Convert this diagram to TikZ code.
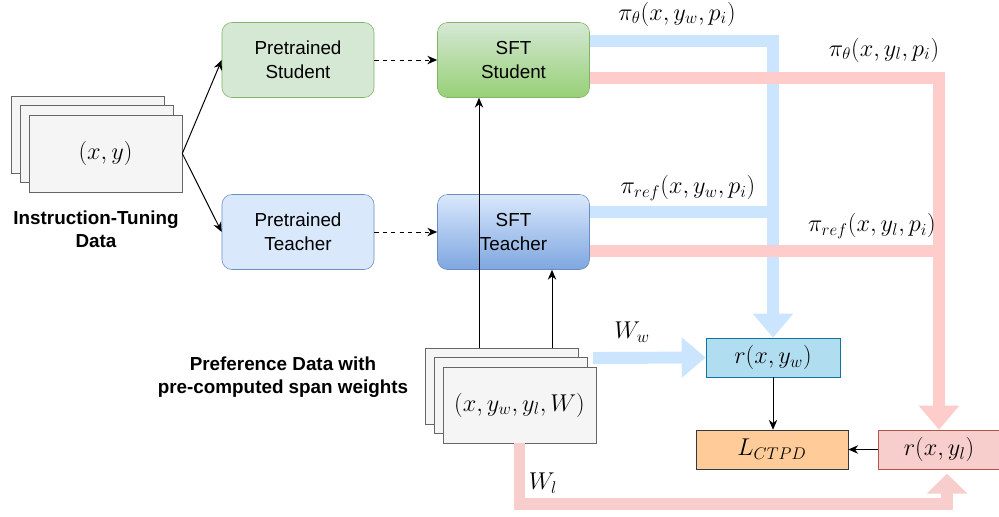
\documentclass[tikz,border=0pt]{standalone}
\usepackage{fontspec}
\setsansfont{Liberation Sans}
\usetikzlibrary{arrows.meta}

\definecolor{stuFill}{HTML}{D5E8D4}
\definecolor{stuLine}{HTML}{82B366}
\definecolor{stuDark}{HTML}{97D077}
\definecolor{teaFill}{HTML}{DAE8FC}
\definecolor{teaLine}{HTML}{6C8EBF}
\definecolor{teaDark}{HTML}{7EA6E0}
\definecolor{dataFill}{HTML}{F5F5F5}
\definecolor{dataLine}{HTML}{666666}
\definecolor{rwFill}{HTML}{B1DDF0}
\definecolor{rwLine}{HTML}{10739E}
\definecolor{rlFill}{HTML}{F8CECC}
\definecolor{rlLine}{HTML}{B85450}
\definecolor{lossFill}{HTML}{FFCC99}
\definecolor{lossLine}{HTML}{36393D}
\definecolor{flowBlue}{HTML}{CCE5FF}
\definecolor{flowPink}{HTML}{FFCCCC}

\begin{document}
\begin{tikzpicture}[x=0.025cm,y=-0.025cm,
  txt/.style={font=\fontsize{13.4}{17}\selectfont\sffamily,align=center},
  bold/.style={font=\fontsize{13.4}{16.5}\selectfont\sffamily\bfseries,align=center},
  mth/.style={font=\fontsize{16.5}{19}\selectfont},
  model/.style={draw,rounded corners=0.25cm,minimum width=3.8cm,minimum height=1.875cm,txt},
  sheet/.style={draw=dataLine,fill=dataFill,minimum width=3.825cm,minimum height=1.925cm,mth},
  score/.style={draw,minimum height=0.975cm,mth},
  arr/.style={-{Stealth[length=7pt,width=6pt]},line width=0.7pt},
  blueflow/.style={draw=flowBlue,line width=8.5pt},
  pinkflow/.style={draw=flowPink,line width=8.5pt},
  bigtip/.style={-{Triangle[width=0.975cm,length=0.6cm]}}]
\useasboundingbox (0,0) rectangle (999,516);

% instruction-tuning data
\node[sheet] (d3) at (87.5,134.5) {};
\node[sheet] (d2) at (96.5,143.5) {};
\node[sheet] (d1) at (105.5,153.5) {$(x,y)$};
\node[bold] (dlab) at (96,229) {Instruction-Tuning\\Data};

% models
\node[model,draw=stuLine,fill=stuFill] (pstu) at (298,60) {Pretrained\\Student};
\node[model,draw=stuLine,top color=stuFill,bottom color=stuDark] (sstu) at (513.5,60) {SFT\\Student};
\node[model,draw=teaLine,fill=teaFill] (ptea) at (298,232) {Pretrained\\Teacher};
\node[model,draw=teaLine,top color=teaFill,bottom color=teaDark] (stea) at (513.5,232) {SFT\\Teacher};

\draw[arr] (d1.east) -- (pstu.west);
\draw[arr] (d1.east) -- (ptea.west);
\draw[arr,dashed] (pstu) -- (sstu);
\draw[arr,dashed] (ptea) -- (stea);

% preference data
\node[sheet,minimum height=1.9cm] (p3) at (501.5,386) {};
\node[sheet,minimum height=1.9cm] (p2) at (510.5,395) {};
\node[sheet,minimum height=1.9cm] (p1) at (519.5,405) {$(x,y_w,y_l,W)$};
\node[bold] (plab) at (283,377) {Preference Data with\\pre-computed span weights};

\coordinate (pa) at (479,348);
\coordinate (pb) at (552,348);
\draw[arr] (pa) -- (pa |- sstu.south);
\draw[arr] (pb) -- (pb |- stea.south);

% rewards and loss
\node[score,draw=rwLine,fill=rwFill,minimum width=3.35cm] (rw) at (773,357.5) {$r(x,y_w)$};
\node[score,draw=lossLine,fill=lossFill,minimum width=3.8cm] (loss) at (772,449.5) {$L_{CTPD}$};
\node[score,draw=rlLine,fill=rlFill,minimum width=3.05cm] (rl) at (939,449.5) {$r(x,y_l)$};

\draw[arr] (rw) -- (rw |- loss.north);
\draw[arr] (rl) -- (loss);

% log-prob flows
\coordinate (bw) at (773,41);
\coordinate (bt) at (773,212);
\coordinate (lw) at (939,78);
\coordinate (lt) at (939,251);
\draw[blueflow,bigtip] (sstu.east |- bw) -- (bw) -- (rw.north);
\draw[blueflow] (stea.east |- bt) -- (bt);
\draw[pinkflow,bigtip] (sstu.east |- lw) -- (lw) -- (rl.north);
\draw[pinkflow] (stea.east |- lt) -- (lt);

\node[mth] (t1) at (677,14) {$\pi_\theta(x,y_w,p_i)$};
\node[mth] (t2) at (884,50) {$\pi_\theta(x,y_l,p_i)$};
\node[mth] (t3) at (688,188) {$\pi_{ref}(x,y_w,p_i)$};
\node[mth] (t4) at (872,226) {$\pi_{ref}(x,y_l,p_i)$};

% span weights
\coordinate (ww) at (593,358);
\coordinate (wl) at (947,504);
\draw[blueflow,bigtip] (ww) -- (rw.west);
\draw[draw=rlFill,line width=8.5pt,-{Triangle[width=0.975cm,length=0.5cm]},shorten >=3pt] (p1.south) |- (wl) -- (wl |- rl.south);
\node[mth] (t5) at (632,332) {$W_w$};
\node[mth] (t6) at (543,483) {$W_l$};
\end{tikzpicture}
\end{document}
